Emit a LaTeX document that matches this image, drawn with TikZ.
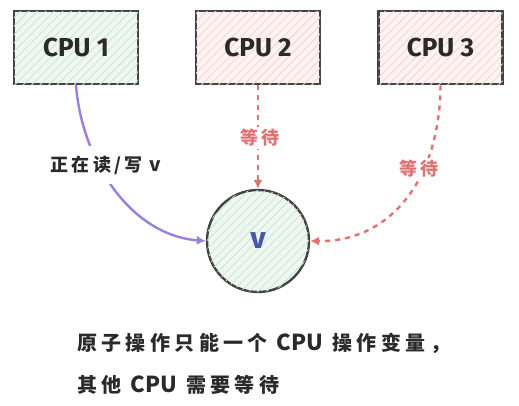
\documentclass[tikz,border=0pt]{standalone}
\usepackage{fontspec}
\setmainfont{Fira Sans}
\newfontfamily\cjk[LetterSpace=18]{Noto Sans CJK SC}
\newfontfamily\cjkcap[LetterSpace=22]{Noto Sans CJK SC}
\newfontfamily\cjklat{Noto Sans CJK SC}
\newfontfamily\cpufont{Fira Sans}
\usetikzlibrary{patterns.meta,arrows.meta}
\definecolor{ink}{HTML}{2A2A2A}
\definecolor{boxline}{HTML}{444444}
\definecolor{gfill}{HTML}{EEF7F0}
\definecolor{ghatch}{HTML}{CFE6D4}
\definecolor{pfill}{HTML}{FDF3F3}
\definecolor{phatch}{HTML}{F7D3D3}
\definecolor{purp}{HTML}{9A7FE0}
\definecolor{wred}{HTML}{E07272}
\definecolor{vblue}{HTML}{4A56A8}
\newcommand{\cpuword}{{\cjklat\bfseries\fontsize{22}{22}\selectfont CPU}}
\tikzset{
  cpubox/.style={draw=boxline, line width=2.8pt, minimum width=124pt, minimum height=73pt, inner sep=0pt,
    font=\cpufont\bfseries\fontsize{26}{28}\selectfont, text=ink},
  greenfill/.style={fill=gfill, postaction={pattern={Lines[angle=45,distance=6pt,line width=0.9pt]}, pattern color=ghatch}},
  pinkfill/.style={fill=pfill, postaction={pattern={Lines[angle=45,distance=6pt,line width=0.9pt]}, pattern color=phatch}},
  varcircle/.style={circle, draw=boxline, line width=2.4pt, minimum size=102pt, inner sep=0pt,
    font=\cpufont\bfseries\fontsize{30}{32}\selectfont, text=vblue},
  readarrow/.style={draw=purp, line width=2.4pt, line cap=round, -{Latex[length=9pt,width=9pt]}},
  waitarrow/.style={draw=wred, line width=2.4pt, dash pattern=on 5pt off 5pt, -{Latex[length=9pt,width=9pt]}},
  lbl/.style={fill=white, inner sep=2pt, font=\cjk\bfseries\fontsize{18}{20}\selectfont},
  caption/.style={anchor=west, inner sep=0pt, text=ink, font=\cjkcap\bfseries\fontsize{20}{22}\selectfont},
}
\begin{document}
\begin{tikzpicture}[x=1pt,y=-1pt]
\useasboundingbox (0,0) rectangle (519,405);
\node[cpubox, greenfill] (c1) at (76,47.5) {CPU 1};
\node[cpubox, pinkfill] (c2) at (258,47.5) {CPU 2};
\node[cpubox, pinkfill] (c3) at (440.5,47.5) {CPU 3};
\node[varcircle, greenfill] (v) at (258,241) {v};
\draw[readarrow] (c1.south) .. controls (82,160) and (130,235) .. (v.west);
\draw[waitarrow] (c2.south) -- (v.north);
\draw[waitarrow] (c3.south) .. controls (440,180) and (390,242) .. (v.east);
\node[lbl, text=ink, inner ysep=10pt] (l1) at (106,165) {正在读/写 {\cjklat\bfseries\fontsize{19}{20}\selectfont v}};
\node[lbl, text=wred] (l2) at (260,138) {等待};
\node[lbl, text=wred] (l3) at (419,169) {等待};
\node[caption] (t1) at (77,343) {原子操作只能一个 \cpuword{} 操作变量，};
\node[caption] (t2) at (77,385) {其他 \cpuword{} 需要等待};
\end{tikzpicture}
\end{document}
